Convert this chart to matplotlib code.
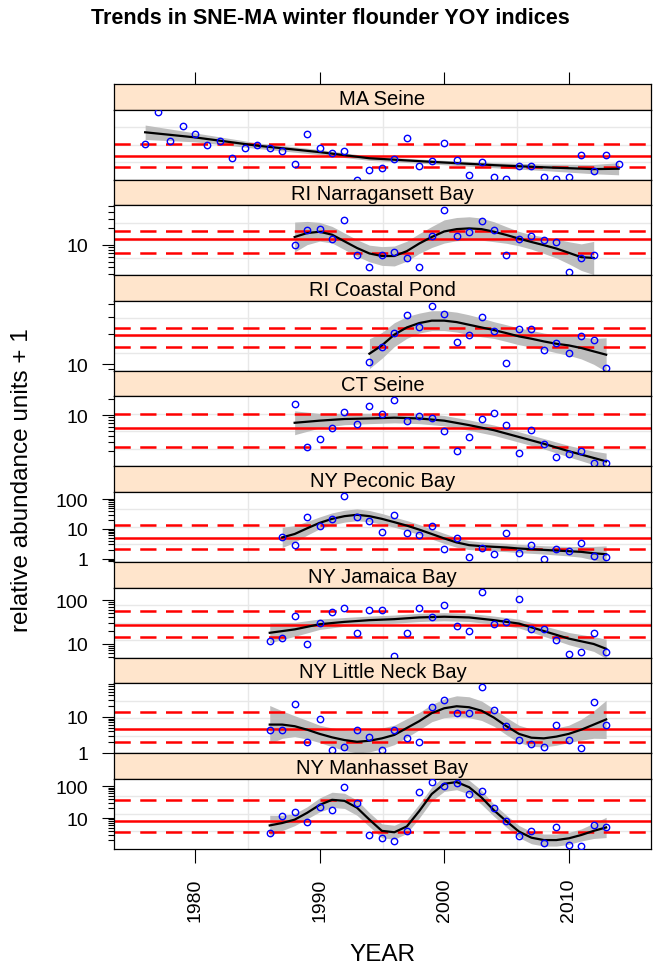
import numpy as np
import matplotlib
matplotlib.use('Agg')
import matplotlib.pyplot as plt

plt.rcParams['font.family'] = ['Liberation Sans', 'DejaVu Sans']

panel_names = ['MA Seine', 'RI Narragansett Bay', 'RI Coastal Pond', 'CT Seine',
               'NY Peconic Bay', 'NY Jamaica Bay', 'NY Little Neck Bay', 'NY Manhasset Bay']

# observed YOY indices (relative abundance units + 1)
ma_years = list(range(1976, 2015))
ma_vals = [1.42, 1.94, 1.46, 1.69, 1.56, 1.40, 1.46, 1.24, 1.37, 1.41, 1.36, 1.32, 1.17,
           1.56, 1.37, 1.30, 1.33, 1.00, 1.10, 1.12, 1.22, 1.51, 1.14, 1.20, 1.43, 1.21,
           1.05, 1.19, 1.03, 1.01, 1.14, 1.14, 1.03, 1.01, 1.03, 1.27, 1.09, 1.27, 1.17]
nb_years = list(range(1988, 2013))
nb_vals = [10.1, 18.3, 19.3, 12.8, 28.3, 6.7, 4.0, 6.7, 7.4, 5.9, 4.0, 14.7, 42.8, 14.7,
           17.1, 26.8, 18.3, 6.7, 12.8, 14.7, 12.4, 11.3, 3.3, 5.8, 6.7]
cp_years = list(range(1994, 2014))
cp_vals = [10.5, 14.8, 20.5, 31.0, 24.0, 38.9, 32.3, 16.6, 19.9, 30.1, 21.8, 10.3, 22.6,
           22.6, 13.9, 16.4, 13.0, 19.4, 17.4, 9.2]
ct_years = list(range(1988, 2014))
ct_vals = [16.3, 2.41, 3.45, 5.75, 11.7, 6.6, 15.1, 10.4, 19.8, 7.7, 9.8, 8.6, 4.95, 2.07,
           3.78, 8.3, 11.2, 6.4, 1.84, 5.1, 2.80, 1.58, 1.78, 2.01, 1.19, 1.19]
pb_years = list(range(1987, 2014))
pb_vals = [5.15, 2.90, 24.6, 12.8, 21.6, 124, 24.6, 19.0, 8.0, 28.1, 7.0, 6.35, 12.8, 2.07,
           4.76, 1.13, 2.24, 1.40, 7.0, 1.59, 2.90, 1.0, 2.07, 1.82, 3.30, 1.23, 1.13]
jb_years = list(range(1986, 2014))
jb_vals = [11.4, 13.6, 42.3, 9.9, 30.6, 54.5, 66.4, 17.8, 59.6, 59.6, 5.35, 17.8, 65.2,
           41.5, 78, 25.6, 19.5, 154, 28.0, 31.7, 108, 22.1, 22.1, 12.0, 5.85, 6.4, 17.8, 6.4]
ln_years = list(range(1986, 2014))
ln_vals = [4.2, 4.2, 23.0, 2.03, 8.9, 1.17, 1.46, 4.2, 2.83, 1.17, 4.2, 2.64, 2.03, 18.4,
           28.7, 13.2, 13.2, 69, 15.5, 5.7, 2.27, 1.74, 1.46, 6.1, 2.27, 1.36, 25.7, 6.1]
mh_years = list(range(1986, 2014))
mh_vals = [3.3, 11.4, 15.8, 7.5, 22.3, 17.4, 98, 30.8, 2.92, 2.40, 1.87, 3.94, 64.6, 136,
           106, 129, 57, 73, 20.2, 7.9, 2.72, 3.94, 1.58, 5.4, 1.46, 1.29, 6.15, 5.4]

# smoother fits, with band half-width in log10 units
ma_fit_years = [1976, 1980, 1985, 1990, 1994, 1999, 2004, 2008, 2012, 2014]
ma_fit = [1.594, 1.516, 1.397, 1.311, 1.234, 1.191, 1.153, 1.129, 1.109, 1.113]
ma_hw = [0.031, 0.019, 0.012, 0.011, 0.009, 0.009, 0.011, 0.014, 0.020, 0.026]

nb_fit_years = list(range(1988, 2013))
nb_fit = [13.9, 16.4, 17.3, 15.3, 11.6, 8.8, 7.0, 6.3, 6.3, 7.7, 10.6, 13.9, 17.5, 19.3,
          19.9, 19.3, 17.3, 15.1, 13.0, 11.3, 9.9, 8.6, 7.2, 6.0, 5.8]
nb_hw = [0.27, 0.21, 0.17, 0.15, 0.15, 0.15, 0.15, 0.17, 0.18, 0.18, 0.18, 0.19, 0.21,
         0.21, 0.21, 0.20, 0.18, 0.15, 0.13, 0.13, 0.15, 0.17, 0.20, 0.24, 0.30]

cp_fit_years = list(range(1994, 2014))
cp_fit = [12.8, 15.5, 19.9, 23.5, 26.0, 27.5, 27.5, 26.6, 25.0, 23.5, 22.1, 20.6, 19.1,
          18.1, 17.0, 16.1, 15.5, 14.6, 13.5, 12.5]
cp_hw = [0.15, 0.13, 0.12, 0.11, 0.10, 0.10, 0.10, 0.10, 0.10, 0.094, 0.084, 0.084, 0.084,
         0.084, 0.084, 0.09, 0.10, 0.11, 0.13, 0.17]

ct_fit_years = [1988, 1990, 1992, 1994, 1996, 1998, 2000, 2002, 2004, 2006, 2008, 2010, 2012, 2013]
ct_fit = [7.1, 7.8, 8.4, 8.6, 8.9, 8.6, 7.8, 6.4, 5.1, 3.78, 2.80, 2.01, 1.49, 1.28]
ct_hw = [0.23, 0.14, 0.11, 0.10, 0.10, 0.10, 0.10, 0.10, 0.10, 0.10, 0.10, 0.11, 0.13, 0.16]

pb_fit_years = list(range(1987, 2014))
pb_fit = [5.15, 6.7, 10.4, 15.8, 21.6, 26.6, 29.6, 26.6, 21.6, 16.7, 12.8, 9.4, 6.7, 4.76,
          3.48, 2.83, 2.62, 2.48, 2.36, 2.18, 2.07, 1.96, 1.86, 1.77, 1.68, 1.51, 1.40]
pb_hw = [0.34, 0.28, 0.23, 0.20, 0.20, 0.20, 0.20, 0.19, 0.18, 0.17, 0.17, 0.17, 0.17, 0.17,
         0.16, 0.15, 0.14, 0.14, 0.14, 0.14, 0.14, 0.14, 0.15, 0.16, 0.18, 0.23, 0.28]

jb_fit_years = [1986, 1988, 1990, 1992, 1994, 1996, 1998, 2000, 2002, 2004, 2006, 2008, 2010, 2012, 2013]
jb_fit = [17.8, 21.3, 28.0, 31.7, 34.7, 36.6, 40.1, 41.6, 40.1, 34.7, 29.0, 19.5, 13.1, 9.85, 7.65]
jb_hw = [0.23, 0.16, 0.12, 0.10, 0.094, 0.094, 0.094, 0.094, 0.094, 0.094, 0.10, 0.12, 0.14, 0.17, 0.22]

ln_fit_years = list(range(1986, 2014))
ln_fit = [6.1, 6.1, 5.5, 4.4, 3.37, 2.70, 2.27, 2.03, 2.17, 2.53, 3.15, 4.9, 7.6, 12.7,
          17.3, 19.7, 18.5, 14.8, 9.5, 5.5, 3.37, 2.64, 2.53, 2.83, 3.37, 4.4, 6.1, 8.5]
ln_hw = [0.53, 0.38, 0.29, 0.26, 0.24, 0.26, 0.29, 0.31, 0.31, 0.29, 0.27, 0.26, 0.24, 0.24,
         0.26, 0.29, 0.29, 0.27, 0.24, 0.24, 0.24, 0.24, 0.24, 0.24, 0.24, 0.29, 0.38, 0.53]

mh_fit_years = list(range(1986, 2014))
mh_fit = [5.85, 6.97, 8.9, 14.6, 25.9, 37.5, 34.8, 21.2, 8.9, 3.94, 3.56, 5.43, 16.6, 57.2,
          120, 136, 93.8, 44.6, 17.4, 7.9, 3.75, 2.40, 2.02, 2.02, 2.29, 2.92, 3.94, 5.05]
mh_hw = [0.32, 0.24, 0.19, 0.19, 0.22, 0.24, 0.24, 0.24, 0.22, 0.22, 0.22, 0.22, 0.22, 0.22,
         0.24, 0.24, 0.22, 0.22, 0.19, 0.19, 0.19, 0.19, 0.19, 0.19, 0.19, 0.19, 0.24, 0.32]

# median and quartiles (red lines)
ref_lines = [(1.26, 1.13, 1.42), (12.8, 7.0, 17.5), (19.5, 14.8, 23.2), (5.7, 2.44, 10.5),
             (4.76, 2.18, 13.9), (27.0, 14.1, 57.4), (4.6, 2.03, 13.8), (8.3, 3.56, 37.5)]

# y ranges of each panel (log10)
y_ranges = [(0.0, 0.30), (0.452, 1.72), (0.935, 1.64), (0.01, 1.362),
            (-0.115, 2.24), (0.681, 2.29), (-0.009, 1.937), (0.03, 2.24)]

panels = [
    (ma_years, ma_vals, ma_fit_years, ma_fit, ma_hw),
    (nb_years, nb_vals, nb_fit_years, nb_fit, nb_hw),
    (cp_years, cp_vals, cp_fit_years, cp_fit, cp_hw),
    (ct_years, ct_vals, ct_fit_years, ct_fit, ct_hw),
    (pb_years, pb_vals, pb_fit_years, pb_fit, pb_hw),
    (jb_years, jb_vals, jb_fit_years, jb_fit, jb_hw),
    (ln_years, ln_vals, ln_fit_years, ln_fit, ln_hw),
    (mh_years, mh_vals, mh_fit_years, mh_fit, mh_hw),
]

X0, X1 = 1973.5, 2016.6
W, H = 653, 970


def log_ticks(lo, hi):
    major, minor = [], []
    for k in range(-1, 4):
        if lo < k < hi:
            major.append(10.0 ** k)
        for m in range(2, 10):
            v = m * 10.0 ** k
            if lo < np.log10(v) < hi:
                minor.append(v)
    return major, minor


def draw_panel(ax, years, vals, fyears, fit, hw, lines, yr):
    lo, hi = yr
    ax.set_yscale('log')
    ax.set_xlim(X0, X1)
    ax.set_ylim(10 ** lo, 10 ** hi)
    for f in (0.25, 0.5, 0.75):
        ax.axvline(X0 + f * (X1 - X0), color='#e8e8e8', lw=1, zorder=0)
        ax.axhline(10 ** (lo + f * (hi - lo)), color='#e8e8e8', lw=1, zorder=0)

    fit = np.array(fit)
    hw = np.array(hw)
    ax.fill_between(fyears, fit / 10 ** hw, fit * 10 ** hw, color='#bebebe', lw=0, zorder=1)
    ax.axhline(lines[0], color='red', lw=1.8, zorder=2)
    ax.axhline(lines[1], color='red', lw=1.8, ls=(0, (6.5, 3.8)), zorder=2)
    ax.axhline(lines[2], color='red', lw=1.8, ls=(0, (6.5, 3.8)), zorder=2)
    ax.plot(fyears, fit, color='black', lw=1.6, zorder=3)
    ax.plot(years, vals, 'o', mfc='none', mec='blue', ms=4.6, mew=1.0, zorder=4)

    major, minor = log_ticks(lo, hi)
    ax.set_yticks(major)
    ax.set_yticklabels(['%g' % v for v in major])
    ax.set_yticks(minor, minor=True)
    ax.set_yticklabels([], minor=True)
    ax.tick_params(axis='y', which='major', direction='out', length=8.5, width=0.8,
                   labelsize=14, pad=10, right=False)
    ax.tick_params(axis='y', which='minor', direction='out', length=4.5, width=0.8, right=False)
    ax.set_xticks([])
    for s in ax.spines.values():
        s.set_linewidth(0.9)


fig = plt.figure(figsize=(W / 100, H / 100), dpi=100)
left = 114 / W
width = 537 / W
top0 = 85
step = 95.6
strip_h = 25.5

for i, name in enumerate(panel_names):
    yst = top0 + step * i
    sax = fig.add_axes([left, 1 - (yst + strip_h) / H, width, strip_h / H])
    sax.set_facecolor('#ffe5cc')
    sax.set_xlim(X0, X1)
    sax.set_yticks([])
    sax.text(0.5, 0.45, name, transform=sax.transAxes, ha='center', va='center', fontsize=14.5)
    for s in sax.spines.values():
        s.set_linewidth(0.9)
    if i == 0:
        sax.set_xticks([1980, 1990, 2000, 2010])
        sax.tick_params(axis='x', top=True, bottom=False, labeltop=False, labelbottom=False,
                        direction='out', length=9, width=0.8)
    else:
        sax.set_xticks([])

    pax = fig.add_axes([left, 1 - (yst + step) / H, width, (step - strip_h) / H])
    years, vals, fyears, fit, hw = panels[i]
    draw_panel(pax, years, vals, fyears, fit, hw, ref_lines[i], y_ranges[i])
    if i == len(panel_names) - 1:
        pax.set_xticks([1980, 1990, 2000, 2010])
        pax.set_xticklabels(['1980', '1990', '2000', '2010'], rotation=90)
        pax.tick_params(axis='x', direction='out', length=10, width=0.8, labelsize=14, pad=11)

fig.text(330 / W, 1 - 18 / H, 'Trends in SNE-MA winter flounder YOY indices',
         ha='center', va='center', fontsize=15.5, fontweight='bold')
fig.text(22 / W, 1 - 480 / H, 'relative abundance units + 1', rotation=90,
         ha='center', va='center', fontsize=17.5)
fig.text(382 / W, 1 - 955 / H, 'YEAR', ha='center', va='center', fontsize=17.5)

fig.savefig('out.png', dpi=100)
